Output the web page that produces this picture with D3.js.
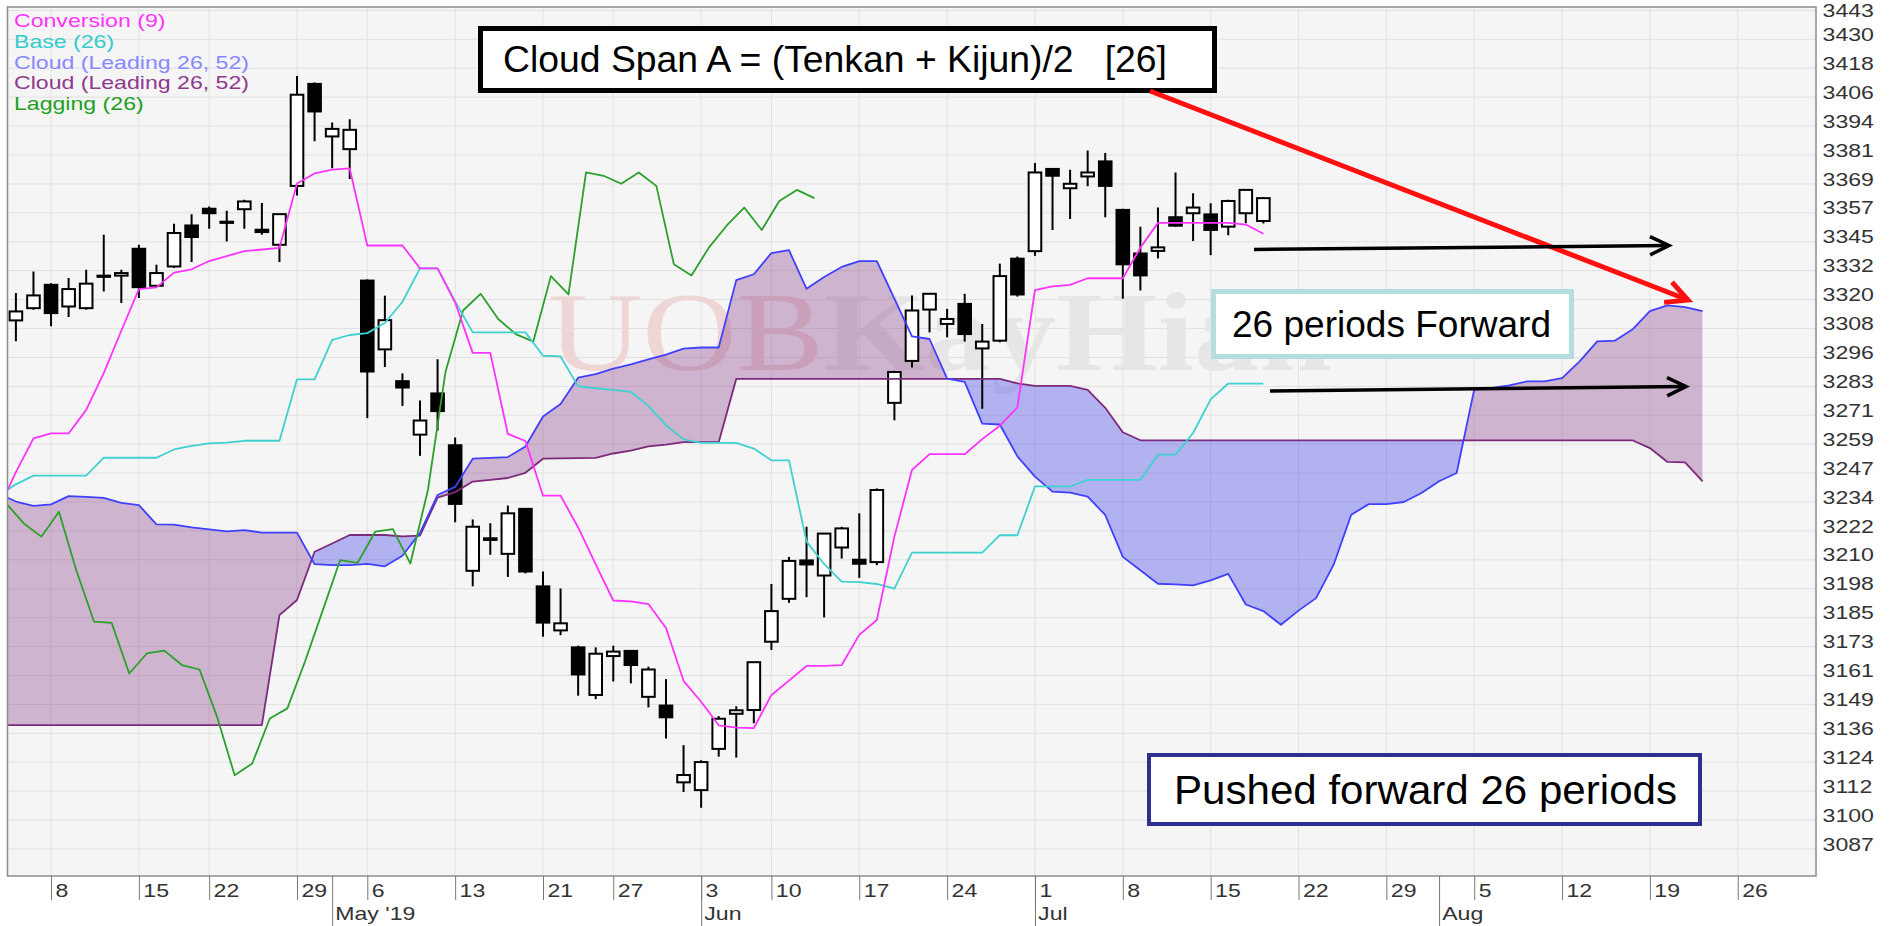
<!DOCTYPE html>
<html>
<head>
<meta charset="utf-8">
<title>STI Ichimoku</title>
<script src="https://cdn.jsdelivr.net/npm/d3@7/dist/d3.min.js"></script>
<style>
    html, body { margin: 0; padding: 0; background: #fff; }
    svg { display: block; font-family: "Liberation Sans", Arial, sans-serif; }
</style>
</head>
<body>
<svg id="chart" width="1890" height="926"></svg>
<script>
"use strict";

// trading calendar (exchange holidays skipped up to the last candle, plain weekdays after it)
var firstDay = "2019-04-03";
var lastCandleDay = "2019-07-18";
var holidays = ["2019-04-19", "2019-05-01", "2019-05-20", "2019-06-05"];

// candles, 2019-04-04 .. 2019-07-18
var open = [3311.4, 3316.6, 3326.5, 3317.3, 3316.6, 3330.0, 3330.4, 3341.8, 3326.1, 3334.3,
    3351.7, 3358.8, 3353.1, 3358.6, 3349.9, 3343.5, 3368.5, 3411.8, 3389.5, 3384.1,
    3328.3, 3299.1, 3285.6, 3262.9, 3280.4, 3258.4, 3205.1, 3218.2, 3212.3, 3231.4,
    3198.5, 3179.8, 3172.6, 3152.4, 3168.9, 3171.1, 3151.6, 3147.9, 3115.3, 3112.0,
    3129.5, 3144.4, 3146.0, 3175.0, 3193.2, 3209.5, 3203.1, 3215.0, 3209.8, 3208.8,
    3276.4, 3294.2, 3316.0, 3309.9, 3318.4, 3299.5, 3302.8, 3337.6, 3340.8, 3375.7,
    3367.5, 3372.5, 3378.9, 3358.3, 3339.8, 3340.9, 3355.2, 3356.9, 3356.4, 3351.2,
    3356.9, 3353.6];
var high = [3323.0, 3332.2, 3327.2, 3329.4, 3332.9, 3347.8, 3332.9, 3343.5, 3335.0, 3352.4,
    3356.5, 3359.8, 3357.9, 3362.6, 3361.2, 3356.5, 3415.2, 3412.4, 3395.4, 3396.8,
    3328.8, 3321.9, 3288.9, 3277.4, 3294.9, 3261.7, 3226.9, 3225.3, 3232.8, 3231.7,
    3204.8, 3197.6, 3173.3, 3172.6, 3173.3, 3171.1, 3164.4, 3159.1, 3131.1, 3124.7,
    3143.4, 3147.6, 3166.3, 3199.5, 3211.0, 3223.8, 3220.9, 3223.8, 3229.5, 3240.1,
    3290.0, 3322.0, 3322.7, 3316.3, 3322.7, 3309.9, 3335.5, 3338.5, 3378.2, 3376.0,
    3375.4, 3383.5, 3382.5, 3358.8, 3351.2, 3359.3, 3374.2, 3365.4, 3361.1, 3362.6,
    3366.8, 3363.8];
var low = [3302.5, 3315.9, 3308.9, 3312.8, 3315.9, 3323.7, 3318.8, 3320.9, 3325.5, 3333.6,
    3336.2, 3350.3, 3344.9, 3350.3, 3347.8, 3336.2, 3364.4, 3387.4, 3376.0, 3371.4,
    3269.9, 3291.6, 3275.1, 3253.9, 3264.7, 3225.7, 3198.5, 3211.9, 3202.5, 3204.0,
    3177.1, 3177.8, 3152.1, 3150.6, 3158.1, 3157.3, 3147.1, 3133.9, 3111.2, 3104.5,
    3126.2, 3125.8, 3140.4, 3171.5, 3191.5, 3193.9, 3185.3, 3210.3, 3202.1, 3207.5,
    3269.0, 3291.4, 3306.3, 3304.2, 3302.4, 3273.9, 3302.1, 3321.5, 3338.8, 3349.8,
    3354.4, 3368.3, 3355.2, 3320.6, 3324.1, 3337.7, 3351.2, 3345.1, 3339.1, 3347.6,
    3352.6, 3352.5];
var close = [3315.2, 3322.0, 3314.5, 3324.7, 3327.0, 3330.4, 3331.5, 3325.5, 3331.5, 3348.5,
    3346.8, 3356.9, 3353.3, 3361.9, 3348.9, 3356.5, 3407.2, 3400.1, 3392.7, 3392.3,
    3289.7, 3311.5, 3282.9, 3268.9, 3272.9, 3233.5, 3223.8, 3218.9, 3229.5, 3204.8,
    3183.1, 3182.8, 3161.1, 3169.9, 3170.8, 3165.1, 3163.2, 3142.9, 3118.4, 3123.9,
    3142.3, 3145.9, 3166.3, 3188.0, 3209.3, 3207.8, 3220.9, 3223.1, 3208.1, 3239.4,
    3289.5, 3315.6, 3322.7, 3312.0, 3305.6, 3302.4, 3330.2, 3322.4, 3374.2, 3372.8,
    3369.4, 3374.2, 3368.5, 3335.2, 3330.5, 3342.4, 3351.6, 3359.3, 3349.8, 3362.1,
    3366.8, 3363.3];

// indicator lines, from 2019-04-03
var conversion = [3231, 3247, 3261.3, 3263.4, 3263.4, 3273.4, 3289, 3307, 3324.7, 3325.4,
    3331.7, 3333.1, 3336.6, 3338.7, 3340.8, 3341.5, 3342.2, 3369.5, 3373.8, 3375.4,
    3375.9, 3343.2, 3343.2, 3343.2, 3333.5, 3333.5, 3319, 3297.6, 3297.6, 3263.2,
    3260.2, 3237.0, 3237.0, 3223.5, 3207.8, 3192.5, 3192.1, 3191.0, 3180.8, 3158.4,
    3149.5, 3139.5, 3138.5, 3138.3, 3152.4, 3158.5, 3164.7, 3164.7, 3165.1, 3177.9,
    3184.2, 3219.6, 3247.9, 3254.6, 3254.6, 3254.6, 3261.0, 3266.7, 3274.5, 3324.3,
    3325.8, 3326.5, 3329.3, 3329.3, 3329.3, 3342.3, 3352.8, 3352.8, 3352.8, 3352.8,
    3352.8, 3352.1, 3348.2];
var base = [3237, 3241.8, 3245.5, 3245.5, 3245.5, 3245.5, 3253.1, 3253.1, 3253.1, 3253.1,
    3256.6, 3258.1, 3259.2, 3259.5, 3260.3, 3260.3, 3260.3, 3286.4, 3286.4, 3303.1,
    3305.2, 3306, 3310.3, 3319.3, 3333.5, 3333.5, 3319.5, 3306.3, 3306.3, 3306.3,
    3306.3, 3296.4, 3296.1, 3283.4, 3282.6, 3281.9, 3281.1, 3275.1, 3266.9, 3260.9,
    3259.4, 3259.4, 3259.4, 3257, 3252, 3252, 3217.5, 3208, 3200.5, 3200.3,
    3199.5, 3197.5, 3212.8, 3212.8, 3212.8, 3212.8, 3212.8, 3220.2, 3220.2, 3240.9,
    3240.9, 3240.9, 3243.7, 3243.7, 3243.7, 3243.7, 3254.4, 3254.4, 3263.6, 3277.9,
    3284.6, 3284.6, 3284.6];
// leading spans, from 2019-04-03 to 2019-08-22
var spanA = [3238, 3234.5, 3232.7, 3233.3, 3236.8, 3236.5, 3236.1, 3233.9, 3233.0, 3224.8,
    3224.7, 3223.5, 3222.7, 3221.8, 3222.4, 3221.3, 3221.3, 3221.3, 3207.9, 3207.5,
    3207.5, 3208, 3207.0, 3211.5, 3221.2, 3237.3, 3240.7, 3252.7, 3253.0, 3253.4,
    3257.9, 3270.6, 3275.9, 3287.1, 3288.6, 3290.9, 3292.7, 3294.9, 3296.9, 3299.4,
    3299.9, 3299.9, 3328.5, 3331, 3340, 3341.2, 3324.8, 3329.8, 3334.1, 3336.6,
    3336.6, 3320.6, 3304.6, 3303.5, 3286.7, 3285.3, 3267.6, 3267.2, 3253.7, 3245.1,
    3238.7, 3238.3, 3236.6, 3228.8, 3211.0, 3205.3, 3199.6, 3199.3, 3198.9, 3201.0,
    3203.8, 3190.8, 3188.0, 3182.2, 3188.2, 3193.5, 3207.7, 3228.9, 3233.4, 3233.4,
    3234.3, 3238.1, 3243.1, 3246.6, 3282.0, 3282.7, 3283.8, 3285.5, 3285.5, 3286.9,
    3294.0, 3302.5, 3302.8, 3307.5, 3315.3, 3317.8, 3317.0, 3315.3];
var spanB = [3139.6, 3139.6, 3139.6, 3139.6, 3139.6, 3139.6, 3139.6, 3139.6, 3139.6, 3139.6,
    3139.6, 3139.6, 3139.6, 3139.6, 3139.6, 3139.6, 3186.3, 3192.7, 3213.2, 3216.7,
    3220.3, 3220.3, 3220.3, 3219.7, 3220, 3236.2, 3238.5, 3243, 3243.7, 3244.5,
    3246.7, 3252.7, 3252.8, 3252.9, 3253, 3254.9, 3256.1, 3257.9, 3258.7, 3259.7,
    3259.7, 3259.7, 3286.6, 3286.6, 3286.6, 3286.6, 3286.6, 3286.6, 3286.6, 3286.6,
    3286.6, 3286.6, 3286.6, 3286.6, 3286.6, 3286.6, 3286.6, 3286.6, 3284.7, 3283.6,
    3283.6, 3283.6, 3281.9, 3274.3, 3263.9, 3260.5, 3260.5, 3260.5, 3260.5, 3260.5,
    3260.5, 3260.5, 3260.5, 3260.5, 3260.5, 3260.5, 3260.5, 3260.5, 3260.5, 3260.5,
    3260.5, 3260.5, 3260.5, 3260.5, 3260.5, 3260.5, 3260.5, 3260.5, 3260.5, 3260.5,
    3260.5, 3260.5, 3260.5, 3260.5, 3257.2, 3251.3, 3251.1, 3243.1];
// lagging line, from 2019-04-03
var lagging = [3233.7, 3225.2, 3219.6, 3230.2, 3205, 3183.5, 3183, 3161.5, 3170.0, 3171.2,
    3165.1, 3163.2, 3143.1, 3118.3, 3123.3, 3142.4, 3146.7, 3166.5, 3188, 3209.6,
    3208.5, 3221.7, 3222.8, 3208.2, 3239.4, 3289.5, 3315.6, 3322.7, 3312.0, 3305.6,
    3302.4, 3330.2, 3322.4, 3374.2, 3372.8, 3369.4, 3374.2, 3368.5, 3335.2, 3330.5,
    3342.4, 3351.6, 3359.3, 3349.8, 3362.1, 3366.8, 3363.3];

var weekTicks = ["2019-04-08", "2019-04-15", "2019-04-22", "2019-04-29", "2019-05-06", "2019-05-13",
    "2019-05-21", "2019-05-27", "2019-06-03", "2019-06-10", "2019-06-17", "2019-06-24", "2019-07-01",
    "2019-07-08", "2019-07-15", "2019-07-22", "2019-07-29", "2019-08-05", "2019-08-12", "2019-08-19",
    "2019-08-26"];
var monthTicks = ["2019-05-02", "2019-06-03", "2019-07-01", "2019-08-01"];
var monthLabels = ["May '19", "Jun", "Jul", "Aug"];
var yLabels = [3087, 3100, 3112, 3124, 3136, 3149, 3161, 3173, 3185, 3198, 3210, 3222, 3234, 3247,
    3259, 3271, 3283, 3296, 3308, 3320, 3332, 3345, 3357, 3369, 3381, 3394, 3406, 3418, 3430, 3443];
var legendItems = [
    { label: "Conversion (9)", color: "#ff33ff" },
    { label: "Base (26)", color: "#33cccc" },
    { label: "Cloud (Leading 26, 52)", color: "#8888ff" },
    { label: "Cloud (Leading 26, 52)", color: "#8e3a8e" },
    { label: "Lagging (26)", color: "#22a022" }
];

var W = 1890, H = 926;
var plot = { left: 7.5, top: 7, right: 1816, bottom: 876 };
var step = 17.57, firstCandleX = 15.9;
var stretch = 1.32;

var parse = d3.timeParse("%Y-%m-%d"), fmt = d3.timeFormat("%Y-%m-%d");
var lastDay = parse(lastCandleDay);
var days = d3.timeDay.range(parse(firstDay), parse("2019-09-03"))
    .filter(function (d) {
        var wd = d.getDay();
        if (wd === 0 || wd === 6) return false;
        return d > lastDay || holidays.indexOf(fmt(d)) < 0;
    })
    .map(fmt);

var x = d3.scalePoint()
    .domain(days)
    .range([firstCandleX - step, firstCandleX + step * (days.length - 2)]);
var y = d3.scaleLinear()
    .domain([yLabels[0], yLabels[yLabels.length - 1]])
    .range([849, 10.4]);
var yTickPos = yLabels.map(function (v, i) {
    return yLabels[0] + i * (yLabels[yLabels.length - 1] - yLabels[0]) / (yLabels.length - 1);
});

var svg = d3.select("#chart");
var defs = svg.append("defs");
defs.append("clipPath").attr("id", "plotClip")
    .append("rect")
        .attr("x", plot.left).attr("y", plot.top)
        .attr("width", plot.right - plot.left).attr("height", plot.bottom - plot.top);

svg.append("rect")
    .attr("x", plot.left).attr("y", plot.top)
    .attr("width", plot.right - plot.left).attr("height", plot.bottom - plot.top)
    .attr("fill", "#f5f5f5");

var grid = svg.append("g").attr("stroke", "#e1e1e1").attr("stroke-width", 1);
grid.selectAll(".hgrid").data(yTickPos).enter().append("line")
    .attr("class", "hgrid")
    .attr("x1", plot.left).attr("x2", plot.right)
    .attr("y1", function (d) { return y(d); }).attr("y2", function (d) { return y(d); });
grid.selectAll(".vgrid").data(weekTicks).enter().append("line")
    .attr("class", "vgrid")
    .attr("x1", function (d) { return x(d); }).attr("x2", function (d) { return x(d); })
    .attr("y1", plot.top).attr("y2", plot.bottom);

var body = svg.append("g").attr("clip-path", "url(#plotClip)");

// watermark
var wm = body.append("text")
    .attr("x", 548).attr("y", 370)
    .attr("font-family", "'Liberation Serif', 'DejaVu Serif', serif")
    .attr("font-size", 112)
    .attr("textLength", 784)
    .attr("lengthAdjust", "spacingAndGlyphs");
wm.append("tspan").attr("fill", "#efd6d6").text("UOB");
wm.append("tspan").attr("fill", "#e6e6e6").attr("font-weight", "bold").text("KayHian");

// cloud
var cloudPts = spanA.map(function (a, i) {
    return { x: x(days[i]), a: y(a), b: y(spanB[i]) };
});
defs.append("clipPath").attr("id", "aboveB")
    .append("path")
        .attr("d", d3.area().x(function (p) { return p.x; }).y0(function (p) { return p.b; }).y1(0)(cloudPts));
defs.append("clipPath").attr("id", "belowB")
    .append("path")
        .attr("d", d3.area().x(function (p) { return p.x; }).y0(function (p) { return p.b; }).y1(H)(cloudPts));
var cloudArea = d3.area()
    .x(function (p) { return p.x; })
    .y0(function (p) { return p.b; })
    .y1(function (p) { return p.a; });
body.append("path")
    .attr("d", cloudArea(cloudPts))
    .attr("fill", "rgba(128,50,128,0.33)")
    .attr("clip-path", "url(#aboveB)");
body.append("path")
    .attr("d", cloudArea(cloudPts))
    .attr("fill", "rgba(60,60,235,0.36)")
    .attr("clip-path", "url(#belowB)");

// candles
var candleDays = days.slice(1, 1 + open.length);
var candles = body.append("g").selectAll(".candle")
    .data(candleDays.map(function (d, i) {
        return { d: d, o: open[i], h: high[i], l: low[i], c: close[i] };
    }))
    .enter().append("g")
        .attr("class", "candle")
        .attr("transform", function (p) { return "translate(" + x(p.d) + ",0)"; });
candles.append("line")
    .attr("y1", function (p) { return y(p.h); })
    .attr("y2", function (p) { return y(p.l); })
    .attr("stroke", "#000").attr("stroke-width", 2);
candles.append("rect")
    .attr("x", -6.3).attr("width", 12.6)
    .attr("y", function (p) { return y(Math.max(p.o, p.c)); })
    .attr("height", function (p) { return Math.max(1.2, Math.abs(y(p.o) - y(p.c))); })
    .attr("fill", function (p) { return p.c >= p.o ? "#fff" : "#000"; })
    .attr("stroke", "#000").attr("stroke-width", 2);

// indicator lines
function pts(values, shift) {
    return values.map(function (v, i) { return [x(days[i]) + (shift || 0), y(v)]; });
}
var line = d3.line();
var lines = [
    { values: spanB, color: "#7c2a7c", shift: 0 },
    { values: spanA, color: "#4040ff", shift: 0 },
    { values: lagging, color: "#2ca02c", shift: 0.45 * step },
    { values: base, color: "#3fd0d0", shift: 0 },
    { values: conversion, color: "#ff33ff", shift: 0 }
];
body.selectAll(".series").data(lines).enter().append("path")
    .attr("class", "series")
    .attr("d", function (s) { return line(pts(s.values, s.shift)); })
    .attr("fill", "none")
    .attr("stroke", function (s) { return s.color; })
    .attr("stroke-width", 1.8)
    .attr("stroke-linejoin", "round");

svg.append("rect")
    .attr("x", plot.left).attr("y", plot.top)
    .attr("width", plot.right - plot.left).attr("height", plot.bottom - plot.top)
    .attr("fill", "none").attr("stroke", "#8c8c8c").attr("stroke-width", 1.5);

// legend
var legend = svg.append("g")
    .attr("transform", "translate(14,0) scale(" + stretch + ",1)")
    .attr("font-size", 17.5);
legend.selectAll("text").data(legendItems).enter().append("text")
    .attr("x", 0)
    .attr("y", function (d, i) { return 21 + i * 20.7; })
    .attr("dy", "0.35em")
    .attr("fill", function (d) { return d.color; })
    .text(function (d) { return d.label; });

// axes
function styleAxis(g) {
    g.attr("font-size", 17.5).attr("font-family", "'Liberation Sans', Arial, sans-serif")
        .style("color", "#333");
    g.select(".domain").remove();
    g.selectAll(".tick line").attr("stroke", "#777");
}
var xAxis = svg.append("g")
    .attr("transform", "translate(0," + plot.bottom + ")")
    .call(d3.axisBottom(x).tickValues(weekTicks).tickSize(24)
        .tickFormat(function (d) { return +d.slice(8); }))
    .call(styleAxis);
xAxis.selectAll("text")
    .attr("text-anchor", "start")
    .attr("x", 3).attr("y", 9)
    .attr("transform", "scale(" + stretch + ",1)");

var monthAxis = svg.append("g")
    .attr("transform", "translate(0," + plot.bottom + ")")
    .call(d3.axisBottom(x).tickValues(monthTicks).tickSize(50)
        .tickFormat(function (d, i) { return monthLabels[i]; }))
    .call(styleAxis);
monthAxis.selectAll("text")
    .attr("text-anchor", "start")
    .attr("x", 2).attr("y", 32)
    .attr("transform", "scale(" + stretch + ",1)");

var yAxis = svg.append("g")
    .attr("transform", "translate(" + plot.right + ",0)")
    .call(d3.axisRight(y).tickValues(yTickPos).tickSize(0).tickPadding(5)
        .tickFormat(function (d, i) { return yLabels[i]; }))
    .call(styleAxis);
yAxis.selectAll("text")
    .attr("y", function (d, i) { return i === yLabels.length - 1 ? 0 : -4.5; })
    .attr("transform", "scale(" + stretch + ",1)");

// annotations
var notes = svg.append("g").attr("font-family", "'Liberation Sans', Arial, sans-serif");
function box(x0, y0, w, h, stroke, sw, label, tx, size, len) {
    notes.append("rect")
        .attr("x", x0).attr("y", y0).attr("width", w).attr("height", h)
        .attr("fill", "#fff").attr("stroke", stroke).attr("stroke-width", sw);
    notes.append("text")
        .attr("x", tx).attr("y", y0 + h / 2)
        .attr("dy", "0.35em")
        .attr("font-size", size)
        .attr("textLength", len).attr("lengthAdjust", "spacingAndGlyphs")
        .attr("xml:space", "preserve")
        .style("white-space", "pre")
        .attr("fill", "#000")
        .text(label);
}
function arrow(x1, y1, x2, y2, color, width, head, spread) {
    var ang = Math.atan2(y2 - y1, x2 - x1);
    var a1 = ang + Math.PI - spread, a2 = ang + Math.PI + spread;
    notes.append("line")
        .attr("x1", x1).attr("y1", y1).attr("x2", x2 - 2 * Math.cos(ang)).attr("y2", y2 - 2 * Math.sin(ang))
        .attr("stroke", color).attr("stroke-width", width);
    notes.append("polyline")
        .attr("points", [[x2 + head * Math.cos(a1), y2 + head * Math.sin(a1)], [x2, y2],
            [x2 + head * Math.cos(a2), y2 + head * Math.sin(a2)]].join(" "))
        .attr("fill", "none").attr("stroke", color).attr("stroke-width", width)
        .attr("stroke-linejoin", "miter");
}

box(480.5, 28.5, 734, 62, "#000", 5, "Cloud Span A = (Tenkan + Kijun)/2   [26]", 503, 37, 664);
box(1213.5, 291.5, 358, 65, "#b5dde0", 5, "26 periods Forward", 1232, 37, 319);
box(1149, 755, 551, 69, "#2c3190", 4, "Pushed forward 26 periods", 1174, 41, 503);

arrow(1150, 91, 1688, 300, "#ff1010", 5, 24, 0.47);
arrow(1254, 249.5, 1669, 245.5, "#000", 3.5, 21, 0.45);
arrow(1270, 391, 1686, 386.5, "#000", 3.5, 21, 0.45);
</script>
</body>
</html>
